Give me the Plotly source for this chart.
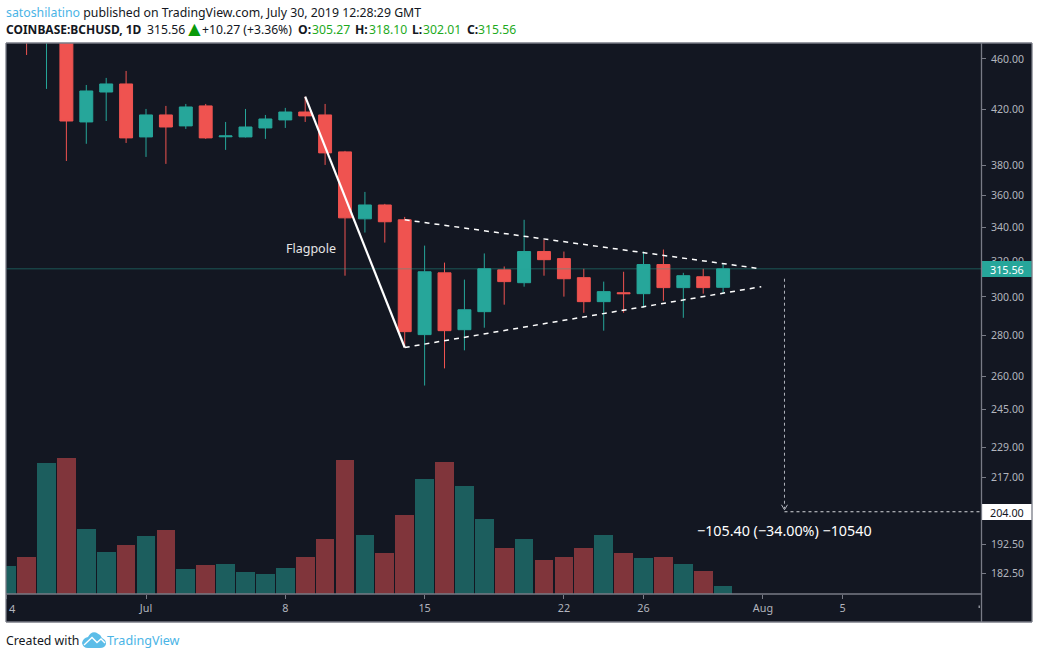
import plotly.graph_objects as go

dates = ["2019-06-24","2019-06-25","2019-06-26","2019-06-27","2019-06-28","2019-06-29","2019-06-30",
"2019-07-01","2019-07-02","2019-07-03","2019-07-04","2019-07-05","2019-07-06","2019-07-07","2019-07-08",
"2019-07-09","2019-07-10","2019-07-11","2019-07-12","2019-07-13","2019-07-14","2019-07-15","2019-07-16",
"2019-07-17","2019-07-18","2019-07-19","2019-07-20","2019-07-21","2019-07-22","2019-07-23","2019-07-24",
"2019-07-25","2019-07-26","2019-07-27","2019-07-28","2019-07-29","2019-07-30"]
opens = [500,490,480,510,410.8,433.5,439.8,399.9,416,407.9,422.8,400,399.9,406.4,412.3,418.2,416,389.3,345.2,353.9,344.6,280.4,313.3,282.9,292.2,315,307.8,325.5,321.4,310.6,297.5,302.3,301.8,318,305.1,311.1,305.27]
highs = [530,500,520,515,439,444.6,450.2,420.5,422.8,424.3,424.3,410.8,420.5,416,421.3,429.9,424.3,390,362.3,354.6,346.4,329,319.1,309.5,324.4,316.9,344.6,332.4,325.5,315.6,308.4,313.9,325.5,326.7,313.3,315.6,318.10]
lows = [490,463.3,435.9,383,395,411.5,395.6,385.8,381,405.7,398.5,390.7,399.5,398.5,406.4,410.8,380.3,311.7,336.8,330.8,274,255.9,263.9,272.6,283.9,295.9,305.6,311.7,300.2,291.6,282.4,291.6,294.3,298,289,301.8,302.01]
closes = [520,480,510,411.5,434.3,439.8,399.2,416,407.1,422,399.2,400.6,407.1,413,418.2,415.3,388.6,345.8,353.9,343.4,281.9,313.9,282.4,293.2,315.6,308.4,325.5,320.8,310,297.5,302.9,301.8,318,305.1,311.7,305.1,315.56]
volumes = [2770,3700,13100,13600,6500,4200,4900,5800,6400,2500,2900,3000,2200,2000,2600,3700,5500,13400,5900,4100,7900,11500,13200,10800,7500,4600,5500,3400,3700,4600,5900,4100,3600,3700,3000,2300,800]
price_ticks = [460,420,380,360,340,320,300,280,260,245,229,217,192.5,182.5]
time_ticks = ["2019-06-24","2019-07-01","2019-07-08","2019-07-15","2019-07-22","2019-07-26","2019-08-01","2019-08-05"]
time_labels = ["","Jul","8","15","22","26","Aug","5"]
last_price = 315.56
target_price = 204.0
measure_day = "2019-08-02 02:00"

BG, UP, DOWN = "#131722", "#26A69A", "#EF5350"
VUP, VDOWN = "#1C5E5E", "#80353B"
FRAME, TXT = "#787B86", "#B2B5BE"
FONT = "Noto Sans"
L, R, T, B = 6, 981, 43, 594
X_END = "2019-08-11 23:00"
px = lambda x: (x - L) / (R - L)
py = lambda y: (B - y) / (B - T)

fig = go.Figure()
fig.add_trace(go.Bar(x=dates, y=volumes, yaxis="y", width=0.94 * 86400000,
    marker=dict(color=[VUP if c >= o else VDOWN for o, c in zip(opens, closes)], line_width=0),
    showlegend=False, hoverinfo="skip"))
fig.add_trace(go.Candlestick(x=dates, open=opens, high=highs, low=lows, close=closes, yaxis="y2",
    increasing=dict(line=dict(color=UP, width=1), fillcolor=UP),
    decreasing=dict(line=dict(color=DOWN, width=1), fillcolor=DOWN),
    whiskerwidth=0, showlegend=False))

shapes = []
def paper_rect(x0, y0, x1, y1, fill, above=False):
    shapes.append(dict(type="rect", xref="paper", yref="paper", x0=px(x0), x1=px(x1), y0=py(y0), y1=py(y1),
                       fillcolor=fill, line_width=0, layer="above" if above else "below"))
def paper_line(x0, y0, x1, y1, color=FRAME, width=1.3):
    shapes.append(dict(type="line", xref="paper", yref="paper", x0=px(x0), x1=px(x1), y0=py(y0), y1=py(y1),
                       line=dict(color=color, width=width), layer="above"))

paper_rect(6, 43, 1032, 622, BG)

def data_line(x0, y0, x1, y1, color="#FFFFFF", width=1.0, dash="solid"):
    shapes.append(dict(type="line", xref="x", yref="y2", x0=x0, x1=x1, y0=y0, y1=y1,
                       line=dict(color=color, width=width, dash=dash), layer="above"))
data_line("2019-06-24", last_price, X_END, last_price, color="rgba(38,166,154,0.45)", width=1)
data_line("2019-07-09", 429.9, "2019-07-14", 274, width=2.2)
data_line("2019-07-14", 344.6, "2019-07-31 22:00", last_price, width=1.5, dash="5px,5px")
data_line("2019-07-14", 274, "2019-07-31 22:00", 305.6, width=1.5, dash="5px,5px")
data_line(measure_day, 310, measure_day, 205.2, color="#B2B5BE", width=1, dash="3px,3px")
data_line(measure_day, target_price, X_END, target_price, color="#D5D7DC", width=1.2, dash="3px,3px")
for dx in (-3, 3):
    shapes.append(dict(type="line", xref="x", yref="y2", xsizemode="pixel", ysizemode="pixel",
                       xanchor=measure_day, yanchor=target_price, x0=dx, y0=7, x1=0, y1=2,
                       line=dict(color="#B2B5BE", width=1), layer="above"))

paper_rect(981, 261, 1032, 277, UP, above=True)
paper_rect(981, 504, 1032, 520, "#FFFFFF", above=True)
paper_rect(978.5, 605.5, 980, 608, "#8A8D96", above=True)

paper_line(6, 43, 1032, 43)
paper_line(6, 622, 1032, 622)
paper_line(6, 43, 6, 622)
paper_line(1032, 43, 1032, 622)
paper_line(981.5, 43, 981.5, 622)
paper_line(6, 594, 981, 594)

def pt(x, y):
    return f"{px(x):.5f},{py(y):.5f}"
logo_cloud = (f"M {pt(82,643)} Q {pt(83,638)} {pt(88,637)} Q {pt(91,631)} {pt(96,632.5)} Q {pt(100,634)} {pt(102,638)} "
              f"Q {pt(106.5,640)} {pt(106,644)} Q {pt(105,648)} {pt(100,648)} L {pt(88,648)} Q {pt(83,648)} {pt(82,643)} Z")
shapes.append(dict(type="path", xref="paper", yref="paper", fillcolor="#5CBDE8", line_width=0, layer="above", path=logo_cloud))
shapes.append(dict(type="path", xref="paper", yref="paper", line=dict(color="#FFFFFF", width=1.4), layer="above",
                   path=f"M {pt(84,645)} L {pt(92,637.5)} L {pt(97,642.5)} L {pt(101,639)} L {pt(105,643)}"))

annotations = []
def text(x, y, s, size=12.2, color="#131722", anchor="left"):
    dx = -2 if anchor == "left" else 0
    annotations.append(dict(xref="paper", yref="paper", x=px(x + dx), y=py(y), text=s, showarrow=False,
                            xanchor=anchor, yanchor="middle", align=anchor,
                            font=dict(family=FONT, size=size, color=color)))
GREEN = "#1EAA1E"
text(6, 12, '<span style="color:#4AB4E6">satoshilatino</span> published on TradingView.com, July 30, 2019 12:28:29 GMT', 12.3)
text(6, 29, '<b>COINBASE:BCHUSD, 1D</b>', 12)
text(146.5, 29, '315.56')
text(184, 28, '▲', 21, "#0A9A0A")
text(202, 29, '+10.27 (+3.36%)', 12.2)
for xl, lab, xv, val in ((298, "O:", 312, "305.27"), (355, "H:", 369, "318.10"), (412, "L:", 423, "302.01"), (467, "C:", 478, "315.56")):
    text(xl, 29, f"<b>{lab}</b>")
    text(xv, 29, val, 12.2, GREEN)
text(286, 248, "Flagpole", 12.5, "#E6E6E6")
text(696.5, 530, "−105.40 (−34.00%) −10540", 14.3, "#FFFFFF")
text(9, 608, "4", 11, TXT)
text(1007, 269, "315.56", 10.8, "#FFFFFF", "center")
text(1007, 512, "204.00", 10.8, "#131722", "center")
text(6, 640, "Created with", 12.3)
text(107, 640, "TradingView", 12.6, "#4AB4E6")

fig.update_layout(
    width=1038, height=658, margin=dict(l=L, r=1038 - R, t=T, b=658 - B),
    paper_bgcolor="#FFFFFF", plot_bgcolor=BG, boxgap=0.35, boxgroupgap=0, bargap=0,
    font=dict(family=FONT, size=11, color=TXT),
    shapes=shapes, annotations=annotations, showlegend=False,
    xaxis=dict(type="date", range=["2019-06-23 23:10", X_END], rangeslider_visible=False,
               tickmode="array", tickvals=time_ticks, ticktext=time_labels, ticks="outside", ticklen=4,
               tickcolor=FRAME, showgrid=False, zeroline=False, showline=False,
               tickfont=dict(family=FONT, size=10.8, color=TXT)),
    yaxis=dict(range=[0, 55100], visible=False, fixedrange=True),
    yaxis2=dict(type="log", overlaying="y", side="right", anchor="x", range=[2.2455, 2.6752],
                tickmode="array", tickvals=price_ticks, ticktext=[f"{v:.2f}" for v in price_ticks],
                ticks="outside", ticklen=4, tickcolor=FRAME, showgrid=False, zeroline=False, showline=False,
                ticklabelstandoff=3, tickfont=dict(family=FONT, size=10.5, color=TXT)),
)
fig.write_html("out.html", config={"displayModeBar": False}, post_script="document.body.style.margin='0';")
